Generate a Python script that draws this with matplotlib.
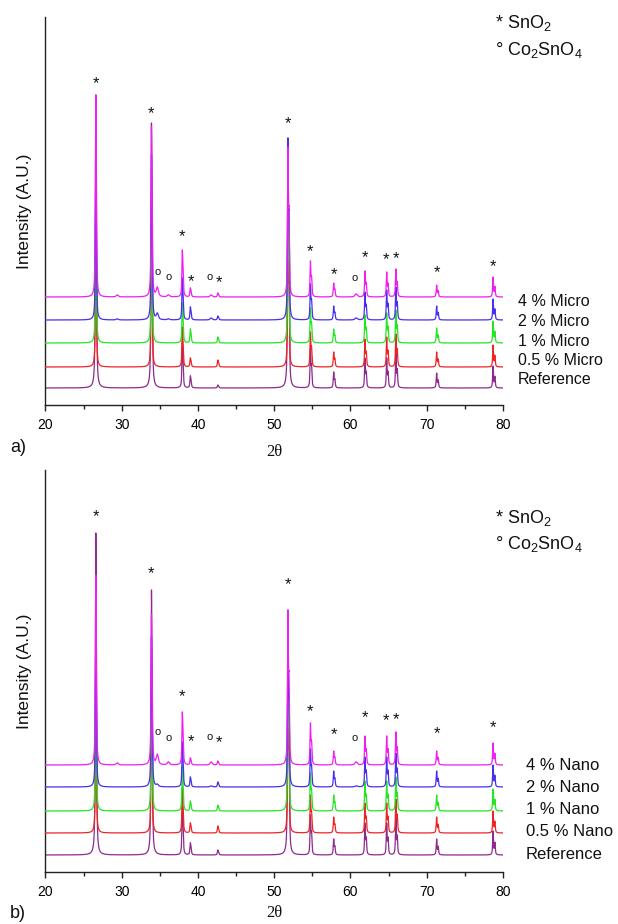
import numpy as np
import matplotlib
matplotlib.use("Agg")
import matplotlib.pyplot as plt

plt.rcParams['font.family'] = ['Liberation Sans', 'DejaVu Sans']
plt.rcParams['mathtext.default'] = 'regular'

# ---------------- data ----------------
x_ticks = [20, 30, 40, 50, 60, 70, 80]
sno2_peaks = [26.6, 33.9, 37.95, 39.0, 42.6, 51.8, 54.75, 57.8, 61.9, 64.75, 65.95, 71.3, 78.7]
extra_peaks = [29.4, 34.65, 36.1, 41.7, 60.7]

series_colors = ['#8e2a8e', '#ee2424', '#22e622', '#4630ee', '#f01ef0']
micro_labels = ['Reference', '0.5 % Micro', '1 % Micro', '2 % Micro', '4 % Micro']
nano_labels = ['Reference', '0.5 % Nano', '1 % Nano', '2 % Nano', '4 % Nano']

# baselines (A.U.) of the stacked patterns
micro_offsets = [17, 38, 62, 85, 108]
nano_offsets = [17, 39, 61, 85, 107]

# peak intensities (A.U.) for SnO2 reflections, panel a
micro_ref_h = [293, 265, 45, 12, 3, 250, 40, 16, 30, 30, 35, 15, 22]
micro_05_h = [150, 140, 40, 9, 7, 140, 35, 15, 28, 30, 33, 15, 22]
micro_1_h = [150, 140, 40, 14, 6, 140, 35, 14, 28, 30, 33, 15, 22]
micro_2_h = [160, 165, 42, 13, 4, 182, 36, 14, 28, 30, 33, 14, 21]
micro_4_h = [202, 170, 47, 9, 4, 150, 36, 14, 26, 25, 28, 12, 20]
# Co2SnO4 / extra reflections, panel a
micro_ref_x = [0, 0, 0, 0, 0]
micro_05_x = [0, 0, 0, 0, 0]
micro_1_x = [0, 0, 0, 0, 0]
micro_2_x = [1, 6, 1, 2, 2]
micro_4_x = [2, 9, 2, 2, 3]

# panel b
nano_ref_h = [322, 265, 50, 12, 5, 245, 40, 16, 32, 32, 36, 16, 24]
nano_05_h = [150, 140, 45, 10, 7, 140, 38, 16, 30, 30, 34, 16, 22]
nano_1_h = [150, 140, 45, 10, 6, 140, 38, 16, 30, 30, 34, 16, 22]
nano_2_h = [160, 150, 45, 10, 5, 150, 38, 16, 30, 30, 34, 16, 22]
nano_4_h = [190, 150, 53, 7, 4, 155, 42, 14, 29, 29, 33, 14, 22]
nano_ref_x = [0, 0, 0, 0, 0]
nano_05_x = [0, 0, 0, 0, 0]
nano_1_x = [0, 0, 0, 0, 0]
nano_2_x = [0, 2, 0, 1, 1]
nano_4_x = [2, 10, 3, 3, 3]

# phase markers above peaks (2theta, intensity, symbol)
micro_mark_x = [26.6, 33.9, 37.95, 34.75, 36.1, 39.05, 41.5, 42.75, 51.8, 54.75, 57.8, 60.5, 61.85, 64.65, 66.0, 71.3, 78.7]
micro_mark_y = [326, 296, 173, 133, 128, 128, 128, 127, 286, 158, 135, 127, 152, 150, 151, 137, 143]
nano_mark_x = [26.6, 33.9, 37.95, 34.75, 36.1, 39.05, 41.5, 42.75, 51.8, 54.75, 57.8, 60.5, 61.85, 64.65, 66.0, 71.3, 78.7]
nano_mark_y = [360, 303, 180, 140, 134, 135, 135, 134, 292, 165, 142, 134, 159, 156, 157, 143, 149]
mark_sym = ['*', '*', '*', 'o', 'o', '*', 'o', '*', '*', '*', '*', 'o', '*', '*', '*', '*', '*']

# ---------------- helpers ----------------
tt = np.linspace(20, 80, 6001)


def peak(pos, h, w=0.13, eta=0.7):
    th = np.radians(pos / 2.0)
    pos2 = 2 * np.degrees(np.arcsin(np.sin(th) * 1.54439 / 1.54056))

    def pv(c):
        d = (tt - c) / (w / 2.0)
        return eta / (1 + d ** 2) + (1 - eta) * np.exp(-np.log(2) * d ** 2)
    p = pv(pos) + 0.5 * pv(pos2)
    return h * p / p.max()


def pattern(offset, hs, xs):
    y = np.full_like(tt, float(offset))
    for pos, h in zip(sno2_peaks, hs):
        if h > 0:
            y += peak(pos, h)
    for pos, h in zip(extra_peaks, xs):
        if h > 0:
            y += peak(pos, h, w=0.3)
    return y


W, H = 618, 924
fig = plt.figure(figsize=(W / 100, H / 100), dpi=100)


def fx(px):
    return px / W


def fy(py):
    return 1 - py / H


def make_panel(top, bottom, offsets, hsets, xsets, labels, mark_x, mark_y,
               lab_x, lab_y0, lab_dy, lab_fs, legend_y, panel_tag, tag_y, xlab_y):
    ax = fig.add_axes([fx(45.4), fy(bottom), fx(503) - fx(45.4), (bottom - top) / H])
    for i in range(5):
        ax.plot(tt, pattern(offsets[i], hsets[i], xsets[i]), color=series_colors[i],
                lw=0.9, zorder=2 + i)
    ax.set_xlim(20, 80)
    ax.set_ylim(0, bottom - top)
    ax.set_xticks(x_ticks)
    ax.set_xticks(np.arange(25, 80, 10), minor=True)
    ax.set_yticks([])
    for s in ['top', 'right']:
        ax.spines[s].set_visible(False)
    for s in ['left', 'bottom']:
        ax.spines[s].set_linewidth(1.0)
        ax.spines[s].set_color('#222222')
    ax.tick_params(axis='x', which='major', direction='out', length=4, width=1.0,
                   labelsize=10, pad=5.5, color='#222222')
    ax.tick_params(axis='x', which='minor', direction='out', length=3, width=1.0,
                   color='#222222')
    # markers above reflections
    for mx, my, ms in zip(mark_x, mark_y, mark_sym):
        if ms == '*':
            ax.annotate('*', xy=(mx, my), xytext=(0, -0.57 * 12), textcoords='offset points',
                        ha='center', va='baseline', fontsize=12, color='#111111')
        else:
            ax.annotate('o', xy=(mx, my), xytext=(0, -0.27 * 8), textcoords='offset points',
                        ha='center', va='baseline', fontsize=8, color='#111111')
    # series labels
    for k, lab in enumerate(labels[::-1]):
        fig.text(fx(lab_x), fy(lab_y0 + k * lab_dy), lab, ha='left', va='center',
                 fontsize=lab_fs, color='#111111')
    # phase legend
    fig.text(fx(495), fy(legend_y), '* SnO$_2$', ha='left', va='baseline', fontsize=13,
             color='#111111')
    fig.text(fx(495), fy(legend_y + 26.5), '° Co$_2$SnO$_4$', ha='left', va='baseline',
             fontsize=13, color='#111111')
    # axis labels
    fig.text(fx(25), fy((top + bottom) / 2), 'Intensity (A.U.)', rotation=90, ha='center',
             va='center', fontsize=12.5, color='#111111')
    fig.text(fx(274), fy(xlab_y), '2θ', ha='center', va='center', fontsize=12,
             family=['Liberation Serif', 'DejaVu Serif'], color='#111111')
    fig.text(fx(18), fy(tag_y), panel_tag, ha='center', va='center', fontsize=13,
             color='#111111')
    return ax


make_panel(17, 405, micro_offsets,
           [micro_ref_h, micro_05_h, micro_1_h, micro_2_h, micro_4_h],
           [micro_ref_x, micro_05_x, micro_1_x, micro_2_x, micro_4_x],
           micro_labels, micro_mark_x, micro_mark_y,
           518, 302, 19.5, 11.5, 28, 'a)', 448, 452)

make_panel(470, 872, nano_offsets,
           [nano_ref_h, nano_05_h, nano_1_h, nano_2_h, nano_4_h],
           [nano_ref_x, nano_05_x, nano_1_x, nano_2_x, nano_4_x],
           nano_labels, nano_mark_x, nano_mark_y,
           526, 765, 22.3, 12, 523, 'b)', 913, 913)

fig.savefig('out.png', dpi=100)
